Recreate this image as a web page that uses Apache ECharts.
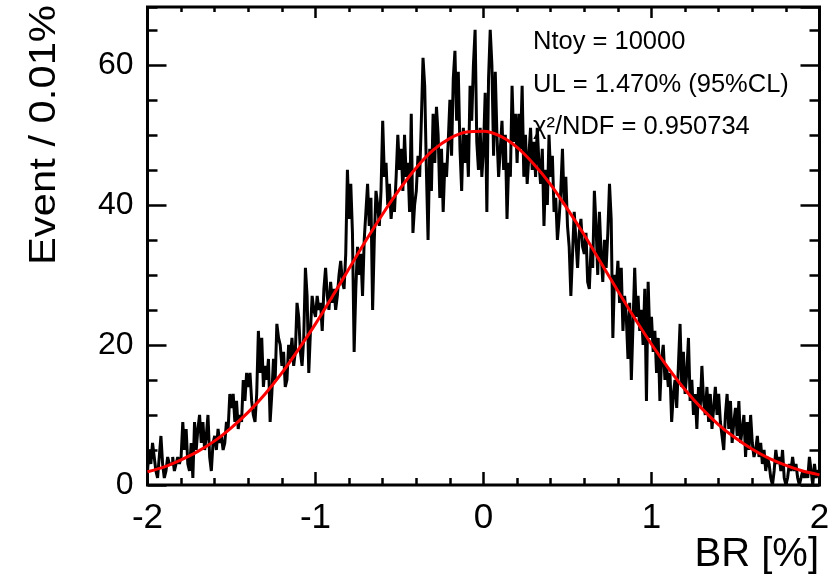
<!DOCTYPE html>
<html>
<head>
<meta charset="utf-8">
<script src="https://cdn.jsdelivr.net/npm/echarts@6/dist/echarts.min.js"></script>
<style>
  html, body { margin: 0; padding: 0; background: #fff; }
  #chart { width: 839px; height: 578px; }
</style>
</head>
<body>
<div id="chart"></div>
<script>
// Toy-MC distribution of the fitted branching ratio, 0.01% bins from -2% to 2%
const binLow = -2.0;
const binWidth = 0.01;
const counts = [
  2, 5, 3, 6, 4, 2, 1, 4, 7, 3,
  1, 2, 4, 3, 3, 4, 2, 3, 4, 3,
  4, 9, 5, 8, 3, 2, 6, 1, 9, 5,
  8, 10, 6, 9, 5, 7, 10, 4, 2, 6,
  7, 5, 8, 6, 7, 5, 6, 9, 8, 13,
  11, 13, 9, 12, 8, 10, 9, 15, 12, 16,
  14, 16, 12, 10, 9, 13, 22, 16, 21, 14,
  17, 15, 18, 9, 13, 18, 15, 23, 21, 20,
  17, 19, 14, 15, 20, 18, 21, 17, 19, 26,
  24, 19, 17, 21, 31, 27, 16, 22, 27, 25,
  24, 27, 25, 26, 22, 28, 31, 27, 25, 29,
  26, 28, 25, 27, 30, 32, 29, 28, 33, 45,
  38, 43, 36, 19, 28, 34, 30, 33, 27, 35,
  39, 43, 37, 41, 25, 35, 42, 40, 37, 42,
  52, 44, 46, 40, 43, 38, 41, 39, 44, 50,
  45, 48, 42, 50, 44, 46, 39, 53, 36, 40,
  42, 47, 44, 52, 61, 57, 45, 35, 48, 42,
  53, 46, 54, 50, 41, 48, 39, 46, 44, 49,
  55, 47, 58, 62, 52, 59, 48, 42, 51, 46,
  50, 44, 57, 52, 60, 65, 49, 45, 51, 44,
  48, 56, 39, 58, 65, 60, 47, 59, 50, 44,
  48, 52, 45, 50, 38, 46, 44, 57, 49, 53,
  46, 53, 48, 57, 44, 50, 43, 47, 51, 45,
  49, 44, 51, 46, 43, 48, 37, 45, 40, 50,
  44, 47, 39, 41, 35, 38, 42, 48, 40, 44,
  37, 34, 27, 33, 39, 35, 31, 36, 38, 34,
  33, 36, 29, 28, 34, 31, 42, 37, 30, 39,
  33, 29, 35, 31, 36, 43, 38, 21, 30, 28,
  32, 26, 31, 22, 27, 24, 18, 26, 15, 23,
  31, 24, 27, 22, 25, 20, 28, 12, 29, 21,
  24, 19, 22, 16, 21, 12, 18, 20, 15, 17,
  14, 16, 9, 13, 15, 11, 17, 23, 14, 19,
  13, 16, 21, 12, 15, 10, 13, 8, 14, 11,
  17, 12, 10, 14, 9, 13, 8, 11, 14, 10,
  13, 9, 7, 5, 10, 13, 8, 12, 6, 9,
  11, 7, 12, 6, 8, 10, 4, 9, 5, 10,
  6, 4, 5, 7, 4, 6, 3, 5, 2, 4,
  3, 1, 0, 2, 5, 3, 4, 2, 5, 1,
  0, 1, 3, 2, 4, 2, 3, 1, 0, 1,
  2, 1, 2, 1, 4, 2, 0, 3, 1, 2
];

// Gaussian fit curve sampled every 0.1%
const fitX = [
  -2.0, -1.9, -1.8, -1.7, -1.6, -1.5, -1.4, -1.3, -1.2, -1.1,
  -1.0, -0.9, -0.8, -0.7, -0.6, -0.5, -0.4, -0.3, -0.2, -0.1,
   0.0,  0.1,  0.2,  0.3,  0.4,  0.5,  0.6,  0.7,  0.8,  0.9,
   1.0,  1.1,  1.2,  1.3,  1.4,  1.5,  1.6,  1.7,  1.8,  1.9, 2.0
];
const fitY = [
  1.9, 2.6, 3.6, 4.8, 6.3, 8.2, 10.4, 13.0, 16.0, 19.4,
  23.0, 26.9, 30.9, 34.9, 38.7, 42.2, 45.3, 47.8, 49.5, 50.4,
  50.5, 49.8, 48.2, 45.8, 42.9, 39.4, 35.7, 31.7, 27.7, 23.8,
  20.1, 16.7, 13.6, 10.9, 8.6, 6.7, 5.1, 3.8, 2.8, 2.0, 1.45
];

const xRange = [-2, 2];
const yRange = [0, 68.25];
const xMajor = 1, xMinor = 0.2;
const yMajor = 20, yMinor = 5;

const infoLines = [
  'Ntoy = 10000',
  'UL = 1.470% (95%CL)',
  '\u03c7\u00b2/NDF = 0.950734'
];
const xTitle = 'BR [%]';
const yTitle = 'Event / 0.01%';

// Step outline: each bin's low edge, plus the closing upper edge
const histPoints = counts.map((c, i) => [binLow + i * binWidth, c]);
histPoints.push([binLow + counts.length * binWidth, counts[counts.length - 1]]);
const fitPoints = fitX.map((x, i) => [x, fitY[i]]);

const FONT = '"Liberation Sans", Arial, Helvetica, sans-serif';
const tickStyle = { color: '#000', width: 2.5 };

function xAxisDef(position, interval, len, labels) {
  return {
    type: 'value', position, min: xRange[0], max: xRange[1], interval,
    axisLine: { show: false, onZero: false },
    axisTick: { show: true, inside: true, length: len, lineStyle: tickStyle },
    axisLabel: labels ? { show: true, color: '#000', fontSize: 35, fontFamily: FONT, margin: 16 } : { show: false },
    splitLine: { show: false }
  };
}
function yAxisDef(position, interval, len, labels) {
  return {
    type: 'value', position, min: yRange[0], max: yRange[1], interval,
    axisLine: { show: false, onZero: false },
    axisTick: { show: true, inside: true, length: len, lineStyle: tickStyle },
    axisLabel: labels ? { show: true, color: '#000', fontSize: 32, fontFamily: FONT, margin: 14, showMaxLabel: false } : { show: false },
    splitLine: { show: false }
  };
}

const chart = echarts.init(document.getElementById('chart'), null, { renderer: 'canvas' });
chart.setOption({
  backgroundColor: '#fff',
  animation: false,
  grid: {
    left: 147.5, right: 19.5, top: 7, bottom: 93,
    show: true, borderColor: '#000', borderWidth: 3, backgroundColor: 'transparent'
  },
  xAxis: [
    xAxisDef('bottom', xMajor, 13, true),
    xAxisDef('bottom', xMinor, 7, false),
    xAxisDef('top', xMajor, 11, false),
    xAxisDef('top', xMinor, 5, false)
  ],
  yAxis: [
    yAxisDef('left', yMajor, 19, true),
    yAxisDef('left', yMinor, 10, false),
    yAxisDef('right', yMajor, 19, false),
    yAxisDef('right', yMinor, 10, false)
  ],
  series: [
    {
      type: 'line', xAxisIndex: 0, yAxisIndex: 0,
      data: histPoints, step: 'end', showSymbol: false, symbol: 'none',
      lineStyle: { color: '#000', width: 3 }, z: 2
    },
    {
      type: 'line', xAxisIndex: 0, yAxisIndex: 0,
      data: fitPoints, smooth: 0.3, showSymbol: false, symbol: 'none',
      lineStyle: { color: '#ff0000', width: 3 }, z: 3
    }
  ],
  graphic: [
    {
      type: 'text', x: 533, y: 42,
      style: { text: infoLines[0], font: '25.5px ' + FONT, fill: '#000', verticalAlign: 'middle' }, z: 10
    },
    {
      type: 'text', x: 533, y: 85,
      style: { text: infoLines[1], font: '25.5px ' + FONT, fill: '#000', verticalAlign: 'middle' }, z: 10
    },
    {
      type: 'text', x: 533, y: 127,
      style: { text: infoLines[2], font: '25.5px ' + FONT, fill: '#000', verticalAlign: 'middle' }, z: 10
    },
    {
      type: 'text', x: 819, y: 555,
      style: { text: xTitle, font: '40px ' + FONT, fill: '#000', align: 'right', verticalAlign: 'middle' }, z: 10
    },
    {
      type: 'text', x: 45, y: 5, rotation: Math.PI / 2, scaleX: 1.16,
      style: { text: yTitle, font: '36px ' + FONT, fill: '#000', align: 'right', verticalAlign: 'middle' }, z: 10
    }
  ]
});
</script>
</body>
</html>
